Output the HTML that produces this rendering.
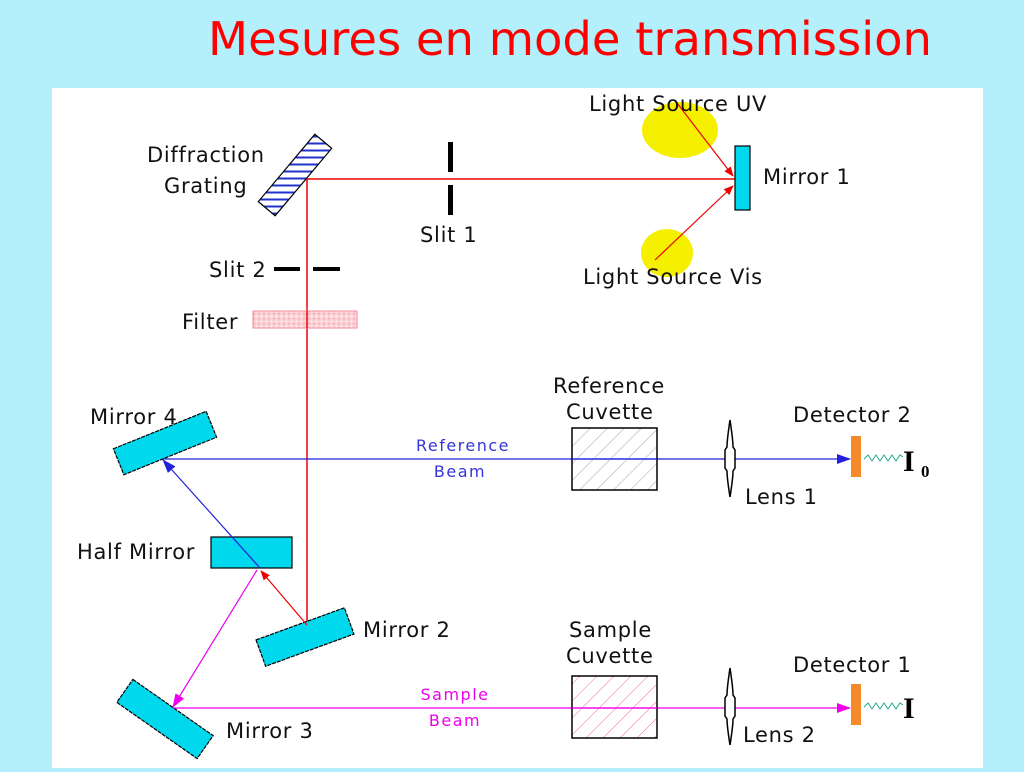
<!DOCTYPE html>
<html><head><meta charset="utf-8"><style>
body{margin:0;width:1024px;height:768px;background:#b3f0fb;overflow:hidden;font-family:"DejaVu Sans","Liberation Sans",sans-serif}
</style></head><body>
<svg width="1024" height="768" viewBox="0 0 1024 768" xmlns="http://www.w3.org/2000/svg" font-family="DejaVu Sans, Liberation Sans, sans-serif">
<defs>
<pattern id="hb" width="8" height="7" patternUnits="userSpaceOnUse" patternTransform="rotate(50)"><rect width="8" height="7" fill="#fff"/><line x1="0" y1="3.5" x2="8" y2="3.5" stroke="#2233cc" stroke-width="2"/></pattern>
<pattern id="hg" width="12" height="12" patternUnits="userSpaceOnUse" patternTransform="rotate(45)"><line x1="0" y1="0" x2="0" y2="12" stroke="#aaa" stroke-width="1"/></pattern>
<pattern id="hp" width="12" height="12" patternUnits="userSpaceOnUse" patternTransform="rotate(45)"><line x1="0" y1="0" x2="0" y2="12" stroke="#ee7788" stroke-width="1"/></pattern>
<pattern id="dots" width="5" height="5" patternUnits="userSpaceOnUse"><rect width="5" height="5" fill="#fbd0d6"/><circle cx="1.5" cy="1.5" r="0.9" fill="#fff"/><circle cx="4" cy="3.8" r="0.7" fill="#e88"/></pattern>
<marker id="ar" markerWidth="10" markerHeight="8" refX="9" refY="4" orient="auto" markerUnits="userSpaceOnUse"><path d="M0,0 L10,4 L0,8 Z" fill="#e00"/></marker>
<marker id="ab" markerWidth="14" markerHeight="10" refX="13" refY="5" orient="auto" markerUnits="userSpaceOnUse"><path d="M0,0 L14,5 L0,10 Z" fill="#2222dd"/></marker>
<marker id="am" markerWidth="14" markerHeight="10" refX="13" refY="5" orient="auto" markerUnits="userSpaceOnUse"><path d="M0,0 L14,5 L0,10 Z" fill="#ee00ee"/></marker>
</defs>
<text x="208" y="55" textLength="724" lengthAdjust="spacingAndGlyphs" font-family="DejaVu Sans, sans-serif" font-size="46" fill="#f00">Mesures en mode transmission</text>
<rect x="52" y="88" width="931" height="680" fill="#fff"/>

<g transform="translate(295,175) rotate(-50)"><rect x="-44" y="-11" width="88" height="22" fill="url(#hb)" stroke="#000" stroke-width="1.2"/></g>
<line x1="307" y1="179" x2="735" y2="179" stroke="#e00" stroke-width="1.5"/>
<line x1="307" y1="179" x2="307" y2="623" stroke="#e00" stroke-width="1.5"/>
<rect x="448" y="142" width="5" height="30" fill="#000"/><rect x="448" y="185" width="5" height="30" fill="#000"/>
<ellipse cx="680" cy="130" rx="38" ry="28" fill="#f5f000"/>
<ellipse cx="667" cy="253" rx="26" ry="24" fill="#f5f000"/>
<rect x="735" y="146" width="15" height="64" fill="#00d8ee" stroke="#000" stroke-width="1.2"/>
<line x1="677" y1="103" x2="733" y2="176" stroke="#e00" stroke-width="1.2" marker-end="url(#ar)"/>
<line x1="655" y1="260" x2="733" y2="186" stroke="#e00" stroke-width="1.2" marker-end="url(#ar)"/>
<rect x="274" y="267" width="26" height="4" fill="#000"/><rect x="313" y="267" width="27" height="4" fill="#000"/>
<rect x="253" y="311" width="104" height="17" fill="url(#dots)" stroke="#f08a96" stroke-width="1"/>
<line x1="307" y1="311" x2="307" y2="328" stroke="#e00" stroke-width="1.5"/>

<line x1="160" y1="459" x2="850" y2="459" stroke="#2222dd" stroke-width="1.3" marker-end="url(#ab)"/>
<g transform="translate(165,443) rotate(-22)"><rect x="-50" y="-14" width="100" height="28" fill="#00d8ee" stroke="#000" stroke-width="1.2" stroke-dasharray="4,1"/></g>
<rect x="211" y="537" width="81" height="31" fill="#00d8ee" stroke="#000" stroke-width="1.2"/>
<g transform="translate(305,637) rotate(-20)"><rect x="-47" y="-14" width="94" height="28" fill="#00d8ee" stroke="#000" stroke-width="1.2" stroke-dasharray="4,1"/></g>
<g transform="translate(165,719) rotate(35)"><rect x="-49" y="-14" width="98" height="28" fill="#00d8ee" stroke="#000" stroke-width="1.2" stroke-dasharray="4,1"/></g>
<line x1="307" y1="625" x2="261" y2="571" stroke="#e00" stroke-width="1.2" marker-end="url(#ar)"/>
<line x1="260" y1="568" x2="163" y2="460" stroke="#2222dd" stroke-width="1.2" marker-end="url(#ab)"/>
<line x1="257" y1="570" x2="173" y2="707" stroke="#ee00ee" stroke-width="1.2" marker-end="url(#am)"/>
<line x1="173" y1="708" x2="850" y2="708" stroke="#ee00ee" stroke-width="1.3" marker-end="url(#am)"/>

<rect x="572" y="428" width="85" height="62" fill="url(#hg)" stroke="#000" stroke-width="1.5"/>
<rect x="572" y="676" width="85" height="62" fill="url(#hp)" stroke="#000" stroke-width="1.5"/>
<line x1="572" y1="459" x2="657" y2="459" stroke="#2222dd" stroke-width="1.3"/>
<line x1="572" y1="708" x2="657" y2="708" stroke="#ee00ee" stroke-width="1.3"/>
<g fill="#fff" stroke="#000" stroke-width="1.5">
<path d="M730,420 Q727,440 727,447 L725,450 L725,468 L727,471 Q727,478 730,497 Q733,478 733,471 L735,468 L735,450 L733,447 Q733,440 730,420Z"/>
<path d="M730,668 Q727,688 727,695 L725,698 L725,716 L727,719 Q727,726 730,745 Q733,726 733,719 L735,716 L735,698 L733,695 Q733,688 730,668Z"/>
</g>
<rect x="851" y="436" width="10" height="41" fill="#f58a2a"/>
<rect x="851" y="684" width="10" height="41" fill="#f58a2a"/>
<polyline points="864,459 868,455 872,461 876,455 880,461 884,455 888,461 892,455 896,461 900,455 903,457" fill="none" stroke="#22aa88" stroke-width="1"/>
<polyline points="864,707 868,703 872,709 876,703 880,709 884,703 888,709 892,703 896,709 900,703 903,705" fill="none" stroke="#22aa88" stroke-width="1"/>
<text x="903" y="471" font-family="Liberation Serif, serif" font-weight="bold" font-size="30">I</text>
<text x="921" y="477" font-family="Liberation Serif, serif" font-weight="bold" font-size="17">0</text>
<text x="903" y="718" font-family="Liberation Serif, serif" font-weight="bold" font-size="30">I</text>

<g font-size="21" fill="#111" letter-spacing="0.7">
<text x="147" y="162">Diffraction</text>
<text x="164" y="193">Grating</text>
<text x="420" y="242">Slit 1</text>
<text x="589" y="111">Light Source UV</text>
<text x="763" y="184">Mirror 1</text>
<text x="583" y="284">Light Source Vis</text>
<text x="209" y="277">Slit 2</text>
<text x="182" y="329">Filter</text>
<text x="553" y="393">Reference</text>
<text x="566" y="419">Cuvette</text>
<text x="793" y="422">Detector 2</text>
<text x="745" y="504">Lens 1</text>
<text x="90" y="424">Mirror 4</text>
<text x="77" y="559">Half Mirror</text>
<text x="363" y="637">Mirror 2</text>
<text x="569" y="637">Sample</text>
<text x="566" y="663">Cuvette</text>
<text x="793" y="672">Detector 1</text>
<text x="743" y="742">Lens 2</text>
<text x="226" y="738">Mirror 3</text>
</g>
<g font-size="16" letter-spacing="1.5">
<text x="463" y="451" text-anchor="middle" fill="#3333dd">Reference</text>
<text x="460" y="477" text-anchor="middle" fill="#3333dd">Beam</text>
<text x="455" y="700" text-anchor="middle" fill="#ee00ee">Sample</text>
<text x="455" y="726" text-anchor="middle" fill="#ee00ee">Beam</text>
</g>
</svg>
</body></html>
